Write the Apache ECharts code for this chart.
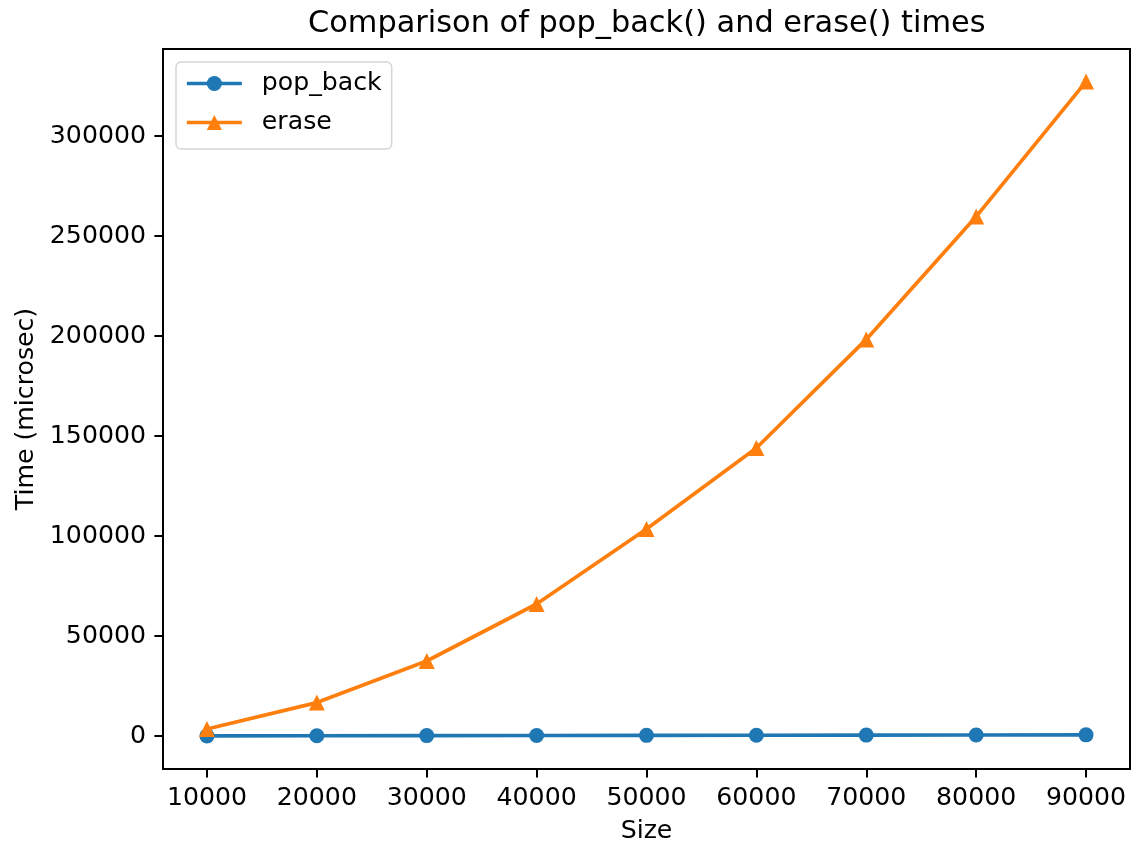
<!DOCTYPE html>
<html>
<head>
<meta charset="utf-8">
<script src="https://cdn.jsdelivr.net/npm/echarts@6/dist/echarts.min.js"></script>
<style>
  html, body { margin: 0; padding: 0; background: #fff; }
  #chart { width: 1132px; height: 844px; }
</style>
</head>
<body>
<div id="chart"></div>
<script>
// data
const sizes = [10000, 20000, 30000, 40000, 50000, 60000, 70000, 80000, 90000];
const popBack = [60, 130, 190, 250, 320, 380, 440, 510, 570];
const erase = [3500, 16700, 37500, 66000, 103500, 144000, 198300, 259700, 327200];
const xTicks = [10000, 20000, 30000, 40000, 50000, 60000, 70000, 80000, 90000];
const yTicks = [0, 50000, 100000, 150000, 200000, 250000, 300000];

const font = "DejaVu Sans";
const fs = 25.2;
const chart = echarts.init(document.getElementById("chart"));

const option = {
  animation: false,
  textStyle: { fontFamily: font },
  title: {
    text: "Comparison of pop_back() and erase() times",
    left: 308,
    top: 9,
    padding: 0,
    textStyle: { fontFamily: font, fontSize: 30.4, fontWeight: "normal", color: "#000" },
  },
  legend: {
    orient: "vertical",
    left: 176,
    top: 62,
    padding: [9, 10, 14, 9],
    itemWidth: 55,
    itemHeight: 19,
    itemGap: 14,
    borderColor: "rgba(204,204,204,0.8)",
    borderWidth: 1.5,
    borderRadius: 5,
    backgroundColor: "rgba(255,255,255,0.8)",
    lineStyle: { width: 3.7 },
    textStyle: { fontFamily: font, fontSize: fs, color: "#000", lineHeight: 25, padding: [0, 0, 0, 15] },
    data: ["pop_back", "erase"],
  },
  grid: {
    left: 163,
    right: 2,
    top: 49,
    bottom: 75,
    outerBoundsMode: "none",
    show: true,
    borderColor: "#000",
    borderWidth: 2,
  },
  xAxis: {
    type: "value",
    min: 6000,
    max: 94000,
    name: "Size",
    nameLocation: "middle",
    nameGap: 50,
    nameTextStyle: { fontFamily: font, fontSize: fs, color: "#000" },
    axisLine: { show: true, onZero: false, lineStyle: { color: "#000", width: 2 } },
    axisTick: { show: true, length: 8.6, lineStyle: { color: "#000", width: 2 }, customValues: xTicks },
    axisLabel: { fontFamily: font, fontSize: fs, color: "#000", margin: 17, customValues: xTicks, formatter: (v) => String(v) },
    splitLine: { show: false },
  },
  yAxis: {
    type: "value",
    min: -16500,
    max: 343500,
    name: "Time (microsec)",
    nameLocation: "middle",
    nameGap: 122,
    nameTextStyle: { fontFamily: font, fontSize: fs, color: "#000" },
    axisLine: { show: true, onZero: false, lineStyle: { color: "#000", width: 2 } },
    axisTick: { show: true, length: 8.6, lineStyle: { color: "#000", width: 2 }, customValues: yTicks },
    axisLabel: { fontFamily: font, fontSize: fs, color: "#000", margin: 17, customValues: yTicks, formatter: (v) => String(v) },
    splitLine: { show: false },
  },
  series: [
    {
      name: "pop_back",
      type: "line",
      data: sizes.map((s, i) => [s, popBack[i]]),
      symbol: "circle",
      symbolSize: 15,
      itemStyle: { color: "#1f77b4" },
      lineStyle: { color: "#1f77b4", width: 3.7 },
    },
    {
      name: "erase",
      type: "line",
      data: sizes.map((s, i) => [s, erase[i]]),
      symbol: "triangle",
      symbolSize: 16,
      itemStyle: { color: "#ff7f0e" },
      lineStyle: { color: "#ff7f0e", width: 3.7 },
    },
  ],
};

chart.setOption(option);
</script>
</body>
</html>
